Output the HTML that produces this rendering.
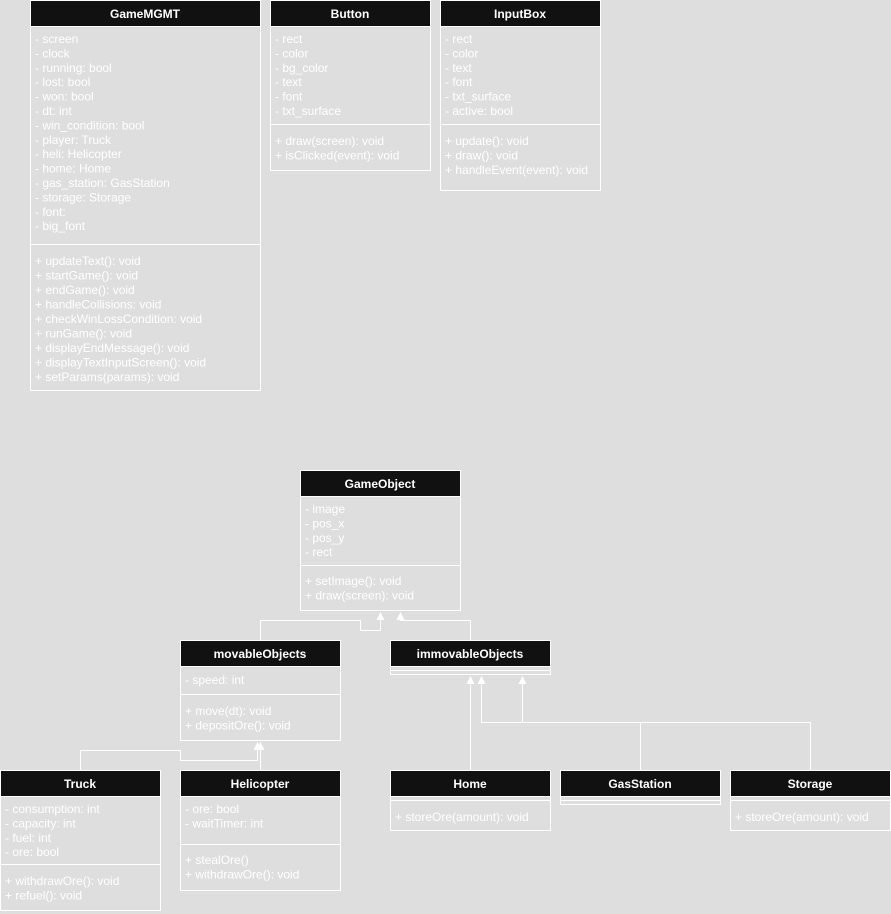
<!DOCTYPE html>
<html><head><meta charset="utf-8"><style>
html,body{margin:0;padding:0;background:#dedede;}
svg{display:block;}
.h{fill:#111;stroke:#fff;stroke-width:1}
.b{fill:none;stroke:#fff;stroke-width:1}
.ht{font:bold 12px "Liberation Sans",sans-serif;fill:#fff;text-anchor:middle}
.t{font:12px "Liberation Sans",sans-serif;fill:#fff}
.l{fill:none;stroke:#fff;stroke-width:1}
.a{fill:#fff}
</style></head><body>
<svg width="891" height="914" viewBox="0 0 891 914" xmlns="http://www.w3.org/2000/svg">
<!-- GameMGMT -->
<rect class="b" x="30.5" y="0.5" width="230" height="390"/>
<rect class="h" x="30.5" y="0.5" width="230" height="26"/>
<text class="ht" x="145" y="18">GameMGMT</text>
<line class="l" x1="30" y1="244.5" x2="260" y2="244.5"/>
<g class="t">
<text x="35" y="43">-  screen</text><text x="35" y="57.4">- clock</text><text x="35" y="71.8">- running: bool</text><text x="35" y="86.2">- lost: bool</text><text x="35" y="100.6">- won: bool</text><text x="35" y="115">- dt: int</text><text x="35" y="129.4">- win_condition: bool</text><text x="35" y="143.8">- player: Truck</text><text x="35" y="158.2">- heli: Helicopter</text><text x="35" y="172.6">- home: Home</text><text x="35" y="187">- gas_station: GasStation</text><text x="35" y="201.4">- storage: Storage</text><text x="35" y="215.8">- font:</text><text x="35" y="230.2">- big_font</text>
<text x="35" y="265">+ updateText(): void</text><text x="35" y="279.5">+ startGame(): void</text><text x="35" y="294">+ endGame(): void</text><text x="35" y="308.5">+ handleCollisions: void</text><text x="35" y="323">+ checkWinLossCondition: void</text><text x="35" y="337.5">+ runGame(): void</text><text x="35" y="352">+ displayEndMessage(): void</text><text x="35" y="366.5">+ displayTextInputScreen(): void</text><text x="35" y="381">+ setParams(params): void</text>
</g>
<!-- Button -->
<rect class="b" x="270.5" y="0.5" width="160" height="170"/>
<rect class="h" x="270.5" y="0.5" width="160" height="26"/>
<text class="ht" x="350" y="18">Button</text>
<line class="l" x1="270" y1="124.5" x2="430" y2="124.5"/>
<g class="t">
<text x="275" y="43">- rect</text><text x="275" y="57.4">- color</text><text x="275" y="71.8">- bg_color</text><text x="275" y="86.2">- text</text><text x="275" y="100.6">- font</text><text x="275" y="115">- txt_surface</text>
<text x="275" y="145">+ draw(screen): void</text><text x="275" y="159.5">+ isClicked(event): void</text>
</g>
<!-- InputBox -->
<rect class="b" x="440.5" y="0.5" width="160" height="190"/>
<rect class="h" x="440.5" y="0.5" width="160" height="26"/>
<text class="ht" x="520" y="18">InputBox</text>
<line class="l" x1="440" y1="124.5" x2="600" y2="124.5"/>
<g class="t">
<text x="445" y="43">- rect</text><text x="445" y="57.4">- color</text><text x="445" y="71.8">- text</text><text x="445" y="86.2">- font</text><text x="445" y="100.6">- txt_surface</text><text x="445" y="115">- active: bool</text>
<text x="445" y="145">+ update(): void</text><text x="445" y="159.5">+ draw(): void</text><text x="445" y="174">+ handleEvent(event): void</text>
</g>
<!-- GameObject -->
<rect class="b" x="300.5" y="470.5" width="160" height="140"/>
<rect class="h" x="300.5" y="470.5" width="160" height="26"/>
<text class="ht" x="380" y="488">GameObject</text>
<line class="l" x1="300" y1="565.5" x2="460" y2="565.5"/>
<g class="t">
<text x="305" y="513">- image</text><text x="305" y="527.4">- pos_x</text><text x="305" y="541.8">- pos_y</text><text x="305" y="556.2">- rect</text>
<text x="305" y="585">+ setImage(): void</text><text x="305" y="599.5">+ draw(screen): void</text>
</g>
<!-- movableObjects -->
<rect class="b" x="180.5" y="640.5" width="160" height="100"/>
<rect class="h" x="180.5" y="640.5" width="160" height="26"/>
<text class="ht" x="260" y="658">movableObjects</text>
<line class="l" x1="180" y1="694.5" x2="340" y2="694.5"/>
<g class="t">
<text x="185" y="684">- speed: int</text>
<text x="185" y="715">+ move(dt): void</text><text x="185" y="729.5">+ depositOre(): void</text>
</g>
<!-- immovableObjects -->
<rect class="b" x="390.5" y="640.5" width="160" height="34"/>
<rect class="h" x="390.5" y="640.5" width="160" height="26"/>
<text class="ht" x="470" y="658">immovableObjects</text>
<line class="l" x1="390" y1="670.5" x2="550" y2="670.5"/>
<!-- Truck -->
<rect class="b" x="0.5" y="770.5" width="160" height="140"/>
<rect class="h" x="0.5" y="770.5" width="160" height="26"/>
<text class="ht" x="80" y="788">Truck</text>
<line class="l" x1="0" y1="864.5" x2="160" y2="864.5"/>
<g class="t">
<text x="5" y="813">- consumption: int</text><text x="5" y="827.4">- capacity: int</text><text x="5" y="841.8">- fuel: int</text><text x="5" y="856.2">- ore: bool</text>
<text x="5" y="885">+ withdrawOre(): void</text><text x="5" y="899.5">+ refuel(): void</text>
</g>
<!-- Helicopter -->
<rect class="b" x="180.5" y="770.5" width="160" height="120"/>
<rect class="h" x="180.5" y="770.5" width="160" height="26"/>
<text class="ht" x="260" y="788">Helicopter</text>
<line class="l" x1="180" y1="844.5" x2="340" y2="844.5"/>
<g class="t">
<text x="185" y="813">- ore: bool</text><text x="185" y="827.4">- waitTimer: int</text>
<text x="185" y="864">+ stealOre()</text><text x="185" y="878.5">+ withdrawOre(): void</text>
</g>
<!-- Home -->
<rect class="b" x="390.5" y="770.5" width="160" height="60"/>
<rect class="h" x="390.5" y="770.5" width="160" height="26"/>
<text class="ht" x="470" y="788">Home</text>
<line class="l" x1="390" y1="800.5" x2="550" y2="800.5"/>
<text class="t" x="395" y="821">+ storeOre(amount): void</text>
<!-- GasStation -->
<rect class="b" x="560.5" y="770.5" width="160" height="34"/>
<rect class="h" x="560.5" y="770.5" width="160" height="26"/>
<text class="ht" x="640" y="788">GasStation</text>
<line class="l" x1="560" y1="800.5" x2="720" y2="800.5"/>
<!-- Storage -->
<rect class="b" x="730.5" y="770.5" width="160" height="60"/>
<rect class="h" x="730.5" y="770.5" width="160" height="26"/>
<text class="ht" x="810" y="788">Storage</text>
<line class="l" x1="730" y1="800.5" x2="890" y2="800.5"/>
<text class="t" x="735" y="821">+ storeOre(amount): void</text>
<!-- connectors -->
<polyline class="l" points="260.5,640 260.5,620.5 360.5,620.5 360.5,630.5 380.5,630.5 380.5,616"/>
<polygon class="a" points="380.5,612 376.5,620 384.5,620"/>
<polyline class="l" points="470.5,640 470.5,620.5 400.5,620.5 400.5,616"/>
<polygon class="a" points="400.5,612 396.5,620 404.5,620"/>
<line class="l" x1="470.5" y1="770" x2="470.5" y2="680"/>
<polygon class="a" points="470.5,676 466.5,684 474.5,684"/>
<polyline class="l" points="640.5,770 640.5,722.5 481.5,722.5 481.5,680"/>
<polygon class="a" points="481.5,676 477.5,684 485.5,684"/>
<polyline class="l" points="810.5,770 810.5,722.5 522.5,722.5 522.5,680"/>
<polygon class="a" points="522.5,676 518.5,684 526.5,684"/>
<polyline class="l" points="80.5,770 80.5,750.5 180.5,750.5 180.5,760.5 257.5,760.5 257.5,746"/>
<polygon class="a" points="257.5,742 253.5,750 261.5,750"/>
<line class="l" x1="260.5" y1="770" x2="260.5" y2="746"/>
<polygon class="a" points="260.5,742 256.5,750 264.5,750"/>
</svg>
</body></html>
